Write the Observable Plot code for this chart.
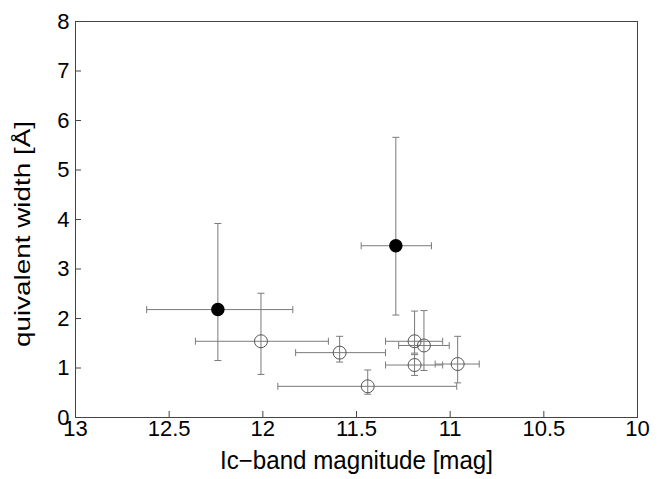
<!DOCTYPE html>
<html>
<head>
<meta charset="utf-8">
<script src="https://cdn.jsdelivr.net/npm/d3@7"></script>
<script src="https://cdn.jsdelivr.net/npm/@observablehq/plot@0.6"></script>
<style>
  html, body { margin: 0; padding: 0; background: #fff; }
  #chart svg { display: block; }
</style>
</head>
<body>
<div id="chart"></div>
<script>
// Ic-band magnitude (centre) and its error-bar ends
const mag       = [12.24, 11.29, 12.01, 11.59, 11.44, 11.19, 11.14, 11.19, 10.96];
const magFaint  = [12.62, 11.475, 12.36, 11.825, 11.92, 11.345, 11.275, 11.345, 11.08];
const magBright = [11.84, 11.10, 11.65, 11.345, 10.965, 11.04, 11.005, 11.04, 10.845];
// Equivalent width [Å] (centre) and its error-bar ends
const ew   = [2.18, 3.47, 1.54, 1.31, 0.63, 1.54, 1.455, 1.06, 1.08];
const ewHi = [3.92, 5.66, 2.51, 1.64, 0.96, 2.15, 2.16, 1.27, 1.64];
const ewLo = [1.15, 2.07, 0.87, 1.12, 0.47, 1.30, 0.95, 0.85, 0.70];
const filled = [true, true, false, false, false, false, false, false, false];

const xTicks = [13, 12.5, 12, 11.5, 11, 10.5, 10];
const yTicks = [0, 1, 2, 3, 4, 5, 6, 7, 8];
const xLabel = "Ic\u2212band magnitude [mag]";
const yLabel = "quivalent width [Å]";

const data = mag.map((m, i) => ({
  mag: m, magFaint: magFaint[i], magBright: magBright[i],
  ew: ew[i], ewHi: ewHi[i], ewLo: ewLo[i], filled: filled[i]
}));

const W = 658, H = 479;
const mL = 75, mR = 21, mT = 21, mB = 62;
const pw = W - mL - mR, ph = H - mT - mB;

const hbar = {draw(ctx, size) { const r = Math.sqrt(size / Math.PI); ctx.moveTo(-r, 0); ctx.lineTo(r, 0); }};
const vbar = {draw(ctx, size) { const r = Math.sqrt(size / Math.PI); ctx.moveTo(0, -r); ctx.lineTo(0, r); }};

const errColor = "#7a7a7a";
const font = "Liberation Sans, Arial, Helvetica, sans-serif";

const chart = Plot.plot({
  width: W, height: H,
  marginLeft: mL, marginRight: mR, marginTop: mT, marginBottom: mB,
  style: {fontFamily: font, fontSize: "22px", color: "#000", background: "#fff"},
  x: {domain: [13, 10], ticks: xTicks},
  y: {domain: [0, 8], ticks: yTicks},
  marks: [
    // inward ticks
    Plot.ruleX(xTicks, {x: d => d, insetTop: ph - 6, stroke: "#444"}),
    Plot.ruleY(yTicks, {y: d => d, insetRight: pw - 6, stroke: "#444"}),
    Plot.axisX({ticks: xTicks, tickSize: 0, tickPadding: 3, fontSize: 22, tickFormat: d => String(d), label: null}),
    Plot.axisY({ticks: yTicks, tickSize: 0, tickPadding: 6, fontSize: 22, tickFormat: d => String(d), label: null}),
    // error bars
    Plot.link(data, {x1: "magFaint", x2: "magBright", y1: "ew", y2: "ew", stroke: errColor, strokeWidth: 1}),
    Plot.link(data, {x1: "mag", x2: "mag", y1: "ewLo", y2: "ewHi", stroke: errColor, strokeWidth: 1}),
    Plot.dot(data, {x: "magFaint", y: "ew", symbol: vbar, r: 3.5, stroke: errColor, strokeWidth: 1, fill: "none"}),
    Plot.dot(data, {x: "magBright", y: "ew", symbol: vbar, r: 3.5, stroke: errColor, strokeWidth: 1, fill: "none"}),
    Plot.dot(data, {x: "mag", y: "ewHi", symbol: hbar, r: 3.5, stroke: errColor, strokeWidth: 1, fill: "none"}),
    Plot.dot(data, {x: "mag", y: "ewLo", symbol: hbar, r: 3.5, stroke: errColor, strokeWidth: 1, fill: "none"}),
    // points
    Plot.dot(data.filter(d => !d.filled), {x: "mag", y: "ew", r: 6.5, stroke: "#555", strokeWidth: 1, fill: "none"}),
    Plot.dot(data.filter(d => d.filled), {x: "mag", y: "ew", r: 6, fill: "#000", stroke: "#000"}),
    Plot.frame({stroke: "#444", strokeWidth: 1}),
    // axis titles
    Plot.text([xLabel], {frameAnchor: "bottom", dy: 43, text: d => d, fontSize: 25, lineAnchor: "middle", textAnchor: "middle"}),
    Plot.text([yLabel], {frameAnchor: "left", dx: -53, dy: 14.5, rotate: -90, text: d => d, fontSize: 22, lineAnchor: "middle", textAnchor: "middle"})
  ]
});
document.getElementById("chart").appendChild(chart);
// stretch axis titles to the reference lengths
d3.select(chart).selectAll("text").each(function() {
  const t = this.textContent;
  if (t === xLabel) d3.select(this).attr("textLength", 273).attr("lengthAdjust", "spacingAndGlyphs");
  if (t === yLabel) d3.select(this).attr("textLength", 226).attr("lengthAdjust", "spacingAndGlyphs");
});
</script>
</body>
</html>
